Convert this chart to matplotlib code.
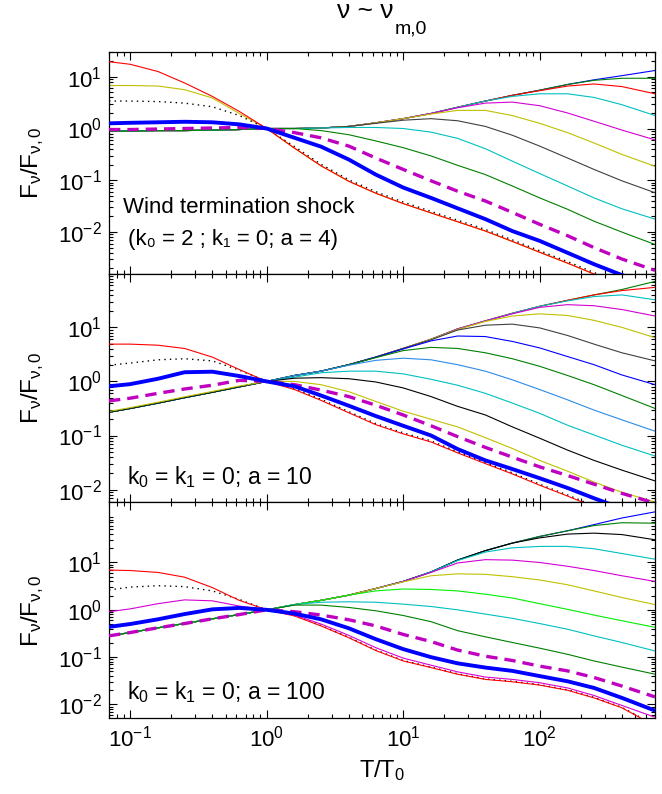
import numpy as np
import matplotlib
matplotlib.use('Agg')
import matplotlib.pyplot as plt
from matplotlib.ticker import LogLocator, NullFormatter, FixedLocator

plt.rcParams['font.family'] = ['Liberation Sans', 'DejaVu Sans']
plt.rcParams['mathtext.fontset'] = 'custom'
plt.rcParams['mathtext.rm'] = 'Liberation Sans'
plt.rcParams['mathtext.it'] = 'Liberation Sans:italic'
plt.rcParams['mathtext.default'] = 'regular'

# ---------------- data (log10 of F_nu/F_nu,0) ----------------
T = [0.07, 0.1, 0.16, 0.25, 0.4, 0.63, 1, 1.6, 2.5, 4, 6.3, 10, 16, 25, 40, 63,
     100, 160, 250, 400, 700]

# Panel 1 : wind termination shock (k0=2, k1=0, a=4)
p1_blue_b   = [-0.05,-0.05,-0.04,-0.04,-0.03,-0.02,0.0, 0.0,0.01,0.04,0.11,0.19,0.29,0.41,0.53,0.64,0.74,0.85,0.94,1.02,1.12]
p1_green_b  = [-0.05,-0.05,-0.04,-0.04,-0.03,-0.02,0.0, 0.0,0.01,0.04,0.11,0.19,0.29,0.41,0.53,0.64,0.74,0.85,0.93,0.97,0.97]
p1_red_b    = [-0.05,-0.05,-0.04,-0.04,-0.03,-0.02,0.0, 0.0,0.01,0.04,0.11,0.19,0.29,0.41,0.53,0.64,0.73,0.82,0.86,0.81,0.67]
p1_cyan_b   = [-0.05,-0.05,-0.04,-0.04,-0.03,-0.02,0.0, 0.0,0.01,0.04,0.11,0.19,0.29,0.41,0.53,0.62,0.67,0.67,0.60,0.46,0.25]
p1_magenta  = [-0.05,-0.05,-0.04,-0.04,-0.03,-0.02,0.0, 0.0,0.01,0.04,0.11,0.19,0.29,0.40,0.49,0.51,0.44,0.30,0.14,-0.03,-0.22]
p1_yellow_b = [-0.05,-0.05,-0.04,-0.04,-0.03,-0.02,0.0, 0.0,0.01,0.04,0.11,0.19,0.28,0.35,0.35,0.25,0.10,-0.08,-0.28,-0.50,-0.73]
p1_gray     = [-0.05,-0.05,-0.04,-0.04,-0.03,-0.02,0.0, 0.0,0.01,0.04,0.10,0.16,0.19,0.15,0.04,-0.13,-0.34,-0.57,-0.79,-1.01,-1.24]
p1_cyan_a   = [-0.05,-0.05,-0.04,-0.04,-0.03,-0.02,0.0, 0.0,0.01,0.02,0.02,0.0,-0.07,-0.19,-0.39,-0.63,-0.87,-1.11,-1.34,-1.55,-1.75]
p1_green_a  = [-0.05,-0.05,-0.04,-0.04,-0.03,-0.02,0.0, 0.0,-0.04,-0.12,-0.24,-0.37,-0.53,-0.71,-0.89,-1.11,-1.34,-1.56,-1.79,-2.0,-2.24]
p1_yellow_a = [0.83,0.83,0.82,0.75,0.59,0.29,0.0,-0.38,-0.72,-1.02,-1.25,-1.45,-1.63,-1.80,-1.98,-2.18,-2.39,-2.60,-2.81,-3.02,-3.28]
p1_dotted   = [0.53,0.53,0.52,0.49,0.42,0.25,0.0,-0.35,-0.69,-0.99,-1.22,-1.42,-1.60,-1.77,-1.95,-2.15,-2.36,-2.57,-2.78,-2.99,-3.25]
p1_red_a    = [1.29,1.24,1.10,0.88,0.62,0.33,0.0,-0.38,-0.72,-1.02,-1.25,-1.45,-1.63,-1.80,-1.98,-2.18,-2.39,-2.60,-2.81,-3.02,-3.28]
p1_dashed   = [-0.02,-0.02,-0.01,0.0,0.01,0.02,0.0,-0.08,-0.18,-0.34,-0.57,-0.79,-1.01,-1.21,-1.40,-1.62,-1.85,-2.07,-2.30,-2.52,-2.74]
p1_thick    = [0.10,0.11,0.12,0.13,0.12,0.08,0.0,-0.18,-0.35,-0.60,-0.89,-1.14,-1.34,-1.54,-1.75,-1.98,-2.17,-2.40,-2.62,-2.83,-3.05]

# Panel 2 : k0 = k1 = 0, a = 10
p2_green_b  = [-0.57,-0.50,-0.40,-0.30,-0.20,-0.10,0.0, 0.11,0.19,0.31,0.45,0.61,0.78,0.97,1.12,1.26,1.39,1.50,1.60,1.70,1.85]
p2_red_b    = [-0.57,-0.50,-0.40,-0.30,-0.20,-0.10,0.0, 0.11,0.19,0.31,0.45,0.61,0.78,0.97,1.12,1.26,1.39,1.50,1.60,1.68,1.74]
p2_cyan_b   = [-0.57,-0.50,-0.40,-0.30,-0.20,-0.10,0.0, 0.11,0.19,0.31,0.45,0.61,0.78,0.97,1.12,1.26,1.39,1.49,1.57,1.60,1.51]
p2_magenta  = [-0.57,-0.50,-0.40,-0.30,-0.20,-0.10,0.0, 0.11,0.19,0.31,0.45,0.61,0.78,0.97,1.12,1.25,1.37,1.42,1.40,1.33,1.21]
p2_yellow_b = [-0.57,-0.50,-0.40,-0.30,-0.20,-0.10,0.0, 0.11,0.19,0.31,0.45,0.61,0.78,0.96,1.11,1.21,1.25,1.22,1.13,1.0,0.81]
p2_gray     = [-0.57,-0.50,-0.40,-0.30,-0.20,-0.10,0.0, 0.11,0.19,0.31,0.45,0.61,0.77,0.95,1.04,1.06,0.99,0.85,0.69,0.53,0.38]
p2_blue_a   = [-0.57,-0.50,-0.40,-0.30,-0.20,-0.10,0.0, 0.11,0.19,0.31,0.45,0.60,0.75,0.84,0.83,0.74,0.62,0.46,0.31,0.12,-0.06]
p2_green_a  = [-0.57,-0.50,-0.40,-0.30,-0.20,-0.10,0.0, 0.11,0.19,0.31,0.44,0.57,0.63,0.61,0.53,0.42,0.28,0.11,-0.06,-0.26,-0.50]
p2_lblue    = [-0.57,-0.50,-0.40,-0.30,-0.20,-0.10,0.0, 0.11,0.19,0.30,0.39,0.43,0.40,0.31,0.19,0.03,-0.15,-0.34,-0.53,-0.71,-0.92]
p2_cyan_a   = [-0.57,-0.50,-0.40,-0.30,-0.20,-0.10,0.0, 0.08,0.16,0.19,0.19,0.14,0.04,-0.07,-0.22,-0.40,-0.59,-0.81,-0.99,-1.18,-1.38]
p2_black_a  = [-0.57,-0.50,-0.40,-0.30,-0.20,-0.10,0.0, 0.06,0.07,0.05,-0.01,-0.12,-0.28,-0.46,-0.62,-0.84,-1.05,-1.27,-1.46,-1.64,-1.84]
p2_yellow_a = [-0.555,-0.485,-0.385,-0.285,-0.185,-0.085,0.0, 0.0,-0.06,-0.19,-0.37,-0.55,-0.70,-0.84,-1.04,-1.24,-1.46,-1.66,-1.86,-2.05,-2.23]
p2_dotted   = [0.30,0.34,0.40,0.42,0.38,0.21,0.0,-0.13,-0.33,-0.56,-0.78,-0.95,-1.10,-1.30,-1.50,-1.69,-1.90,-2.10,-2.30,-2.50,-2.73]
p2_red_a    = [0.69,0.69,0.67,0.61,0.45,0.22,0.0,-0.15,-0.35,-0.58,-0.80,-0.97,-1.12,-1.32,-1.52,-1.71,-1.92,-2.12,-2.32,-2.52,-2.75]
p2_dashed   = [-0.36,-0.31,-0.22,-0.14,-0.07,0.02,0.0,-0.06,-0.16,-0.28,-0.44,-0.62,-0.82,-1.02,-1.22,-1.40,-1.58,-1.74,-1.90,-2.07,-2.25]
p2_thick    = [-0.09,-0.05,0.05,0.17,0.18,0.10,0.0,-0.09,-0.26,-0.45,-0.64,-0.82,-1.0,-1.25,-1.46,-1.62,-1.79,-1.97,-2.16,-2.35,-2.6]

# Panel 3 : k0 = k1 = 0, a = 100
p3_blue_b    = [-0.55,-0.48,-0.38,-0.29,-0.19,-0.10,0.0, 0.11,0.20,0.31,0.45,0.60,0.80,1.05,1.25,1.41,1.55,1.67,1.80,1.94,2.07]
p3_green_b   = [-0.55,-0.48,-0.38,-0.29,-0.19,-0.10,0.0, 0.11,0.20,0.31,0.45,0.60,0.80,1.05,1.25,1.41,1.55,1.67,1.78,1.84,1.83]
p3_black     = [-0.55,-0.48,-0.38,-0.29,-0.19,-0.10,0.0, 0.11,0.20,0.31,0.45,0.60,0.80,1.05,1.25,1.41,1.52,1.60,1.62,1.59,1.48]
p3_cyan_b    = [-0.55,-0.48,-0.38,-0.29,-0.19,-0.10,0.0, 0.11,0.20,0.31,0.45,0.60,0.80,1.04,1.22,1.31,1.34,1.34,1.29,1.19,1.07]
p3_magenta_b = [-0.55,-0.48,-0.38,-0.29,-0.19,-0.10,0.0, 0.11,0.20,0.31,0.45,0.60,0.79,0.99,1.06,1.05,1.0,0.92,0.83,0.72,0.60]
p3_yellow    = [-0.55,-0.48,-0.38,-0.29,-0.19,-0.10,0.0, 0.11,0.20,0.31,0.45,0.59,0.72,0.76,0.75,0.70,0.63,0.53,0.40,0.26,0.11]
p3_lime      = [-0.55,-0.48,-0.38,-0.29,-0.19,-0.10,0.0, 0.11,0.20,0.31,0.40,0.44,0.43,0.40,0.33,0.25,0.13,0.01,-0.11,-0.23,-0.37]
p3_cyan_a    = [-0.55,-0.48,-0.38,-0.29,-0.19,-0.10,0.0, 0.11,0.16,0.17,0.16,0.12,0.07,0.0,-0.09,-0.18,-0.29,-0.41,-0.55,-0.69,-0.87]
p3_green_a   = [-0.55,-0.48,-0.38,-0.29,-0.19,-0.10,0.0, 0.10,0.10,0.05,-0.02,-0.12,-0.25,-0.44,-0.57,-0.69,-0.81,-0.94,-1.08,-1.21,-1.36]
p3_dotted    = [0.42,0.48,0.51,0.49,0.40,0.22,0.0,-0.12,-0.33,-0.58,-0.85,-1.07,-1.21,-1.35,-1.46,-1.51,-1.58,-1.69,-1.85,-2.06,-2.44]
p3_red_a     = [0.84,0.83,0.79,0.69,0.47,0.20,0.0,-0.13,-0.34,-0.59,-0.86,-1.08,-1.22,-1.36,-1.47,-1.52,-1.59,-1.70,-1.86,-2.07,-2.45]
p3_magenta_a = [-0.04,0.02,0.13,0.21,0.19,0.08,0.0,-0.11,-0.30,-0.54,-0.80,-1.02,-1.17,-1.31,-1.42,-1.47,-1.54,-1.65,-1.81,-2.02,-2.27]
p3_dashed    = [-0.55,-0.48,-0.38,-0.29,-0.19,-0.10,0.0,-0.04,-0.11,-0.21,-0.34,-0.52,-0.67,-0.85,-0.98,-1.07,-1.19,-1.29,-1.43,-1.61,-1.84]
p3_thick     = [-0.36,-0.30,-0.20,-0.09,0.01,0.04,0.0,-0.08,-0.20,-0.39,-0.62,-0.83,-1.0,-1.13,-1.22,-1.29,-1.40,-1.51,-1.65,-1.86,-2.13]

YLIMS = [(0.00155, 30.0), (0.0059, 97.0), (0.0051, 190.0)]
PANEL_TEXT = ['k$_0$ = k$_1$ = 0; a = 10', 'k$_0$ = k$_1$ = 0; a = 100']

# ---------------- style ----------------
C_B = '#0000ff'; C_G = '#008000'; C_R = '#ff0000'; C_C = '#00c0c0'
C_M = '#c000c0'; C_Y = '#c0c000'; C_K = '#404040'; C_BK = '#000000'
C_LIME = '#00ee00'; C_LB = '#2b8ce8'; C_MT = '#d400d4'
THIN = 0.8
FS = 16

fig = plt.figure(figsize=(6.62, 7.94), dpi=100)
ax1 = fig.add_axes([0.1647, 0.6549, 0.8248, 0.2796])
ax2 = fig.add_axes([0.1647, 0.3678, 0.8248, 0.2871])
ax3 = fig.add_axes([0.1647, 0.0953, 0.8248, 0.2725])
axes = [ax1, ax2, ax3]


def line(ax, vals, color, lw=THIN, ls='-', z=2, dashes=None):
    y = np.power(10.0, np.asarray(vals, dtype=float))
    kw = dict(color=color, lw=lw, zorder=z, solid_joinstyle='round')
    if dashes is not None:
        kw['dashes'] = dashes
    else:
        kw['ls'] = ls
    ax.plot(T, y, **kw)


# panel 1
for vals, c in [(p1_blue_b, C_B), (p1_green_b, C_G), (p1_red_b, C_R), (p1_cyan_b, C_C),
                (p1_magenta, C_MT), (p1_yellow_b, C_Y), (p1_gray, C_K), (p1_cyan_a, C_C),
                (p1_green_a, C_G)]:
    line(ax1, vals, c)
line(ax1, p1_yellow_a, C_Y)
line(ax1, p1_dotted, C_BK, lw=1.0, dashes=(1.0, 3.0), z=3)
line(ax1, p1_red_a, C_R, z=3)
line(ax1, p1_dashed, C_M, lw=2.4, dashes=(3.4, 2.1), z=4)
line(ax1, p1_thick, C_B, lw=2.8, z=5)

# panel 2
for vals, c in [(p2_green_b, C_G), (p2_red_b, C_R), (p2_cyan_b, C_C), (p2_magenta, C_MT),
                (p2_yellow_b, C_Y), (p2_gray, C_K), (p2_blue_a, C_B), (p2_green_a, C_G),
                (p2_lblue, C_LB), (p2_cyan_a, C_C), (p2_black_a, C_BK), (p2_yellow_a, C_Y)]:
    line(ax2, vals, c)
line(ax2, p2_dotted, C_BK, lw=1.0, dashes=(1.0, 3.0), z=3)
line(ax2, p2_red_a, C_R, z=3)
line(ax2, p2_dashed, C_M, lw=2.4, dashes=(3.4, 2.1), z=4)
line(ax2, p2_thick, C_B, lw=2.8, z=5)

# panel 3
for vals, c in [(p3_blue_b, C_B), (p3_green_b, C_G), (p3_black, C_BK), (p3_cyan_b, C_C),
                (p3_magenta_b, C_MT), (p3_yellow, C_Y), (p3_lime, C_LIME), (p3_cyan_a, C_C),
                (p3_green_a, C_G)]:
    line(ax3, vals, c)
line(ax3, p3_dotted, C_BK, lw=1.0, dashes=(1.0, 3.0), z=3)
line(ax3, p3_red_a, C_R, z=3)
line(ax3, p3_magenta_a, C_MT, z=3)
line(ax3, p3_dashed, C_M, lw=2.4, dashes=(3.4, 2.1), z=4)
line(ax3, p3_thick, C_B, lw=2.8, z=5)

for i, ax in enumerate(axes):
    ax.set_xscale('log')
    ax.set_yscale('log')
    ax.set_xlim(0.07, 700)
    ax.set_ylim(*YLIMS[i])
    ax.yaxis.set_major_locator(FixedLocator([1e-2, 1e-1, 1.0, 10.0]))
    ax.yaxis.set_minor_locator(LogLocator(base=10, subs=np.arange(2, 10), numticks=20))
    ax.yaxis.set_minor_formatter(NullFormatter())
    ax.xaxis.set_major_locator(FixedLocator([0.1, 1.0, 10.0, 100.0]))
    ax.xaxis.set_minor_locator(LogLocator(base=10, subs=np.arange(2, 10), numticks=20))
    ax.xaxis.set_minor_formatter(NullFormatter())
    ax.tick_params(which='both', direction='in', top=True, right=True, labelsize=FS,
                   width=0.8, colors='black')
    ax.tick_params(which='major', length=6, pad=5)
    ax.tick_params(which='minor', length=3)
    for s in ax.spines.values():
        s.set_linewidth(0.9)
    ax.set_ylabel('F$_ν$/F$_{ν,0}$', fontsize=17.5)
    ax.yaxis.set_label_coords(-0.115, 0.5)
    if i < 2:
        ax.tick_params(axis='x', labelbottom=False)

ax1.text(0.026, 0.275, 'Wind termination shock', transform=ax1.transAxes,
         fontsize=FS, va='baseline', ha='left')
ax1.text(0.035, 0.131, '(k₀ = 2 ; k₁ = 0; a = 4)', transform=ax1.transAxes,
         fontsize=FS, va='baseline', ha='left', family=['Liberation Sans', 'DejaVu Sans'])
ax2.text(0.033, 0.079, PANEL_TEXT[0], transform=ax2.transAxes,
         fontsize=16.5, va='baseline', ha='left')
ax3.text(0.033, 0.088, PANEL_TEXT[1], transform=ax3.transAxes,
         fontsize=16.5, va='baseline', ha='left')

fig.text(0.594, 0.977, 'ν ~ ν', fontsize=19, ha='right', va='baseline')
fig.text(0.596, 0.958, 'm,0', fontsize=14, ha='left', va='baseline')
fig.text(0.577, 0.021, 'T/T$_0$', fontsize=17, ha='center', va='baseline')

fig.savefig('out.png', dpi=100)
